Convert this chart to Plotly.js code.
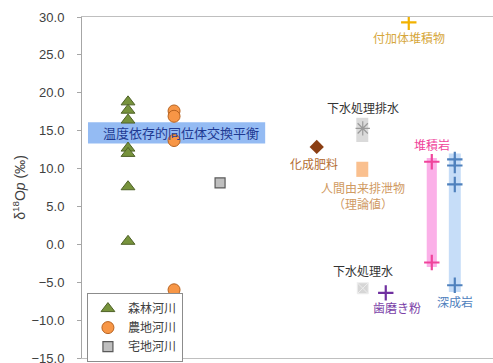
<!DOCTYPE html>
<html>
<head>
<meta charset="utf-8">
<script src="https://cdn.plot.ly/plotly-3.0.1.min.js"></script>
<style>html,body{margin:0;padding:0;background:#fff}#chart{width:493px;height:363px}</style>
</head>
<body>
<div id="chart"></div>
<script>
// River water samples (δ18Op, ‰)
const forestX = [1, 1, 1, 1, 1, 1, 1];
const forestY = [18.8, 17.7, 16.4, 12.7, 12.0, 7.6, 0.4];
const farmX = [2, 2, 2, 2];
const farmY = [17.6, 16.9, 13.7, -6.0];
const urbanX = [3];
const urbanY = [8.1];

// Phosphate sources
const fertX = [5.1], fertY = [12.85];
const sewageEffX = [6.1], sewageEffY = [15.3];
const treatedX = [6.1], treatedY = [-5.8];
const toothX = [6.6], toothY = [-6.4];
const accretX = [7.1], accretY = [29.3];
const sedX = [7.6, 7.6], sedY = [10.9, -2.4];
const plutX = [8.1, 8.1, 8.1, 8.1], plutY = [11.2, 10.4, 7.9, -5.4];

// Value ranges drawn as bands: [x0, x1, low, high]
const equilibriumBand = [0.13, 3.98, 13.3, 16.1];
const sewageBand = [5.96, 6.22, 13.5, 16.7];
const excretaBand = [5.96, 6.22, 8.9, 10.9];
const sedBand = [7.49, 7.71, -3.0, 11.4];
const plutBand = [7.97, 8.23, -6.3, 12.0];

const jp = '"Noto Sans CJK JP", "Noto Sans", sans-serif';
const latin = 'Liberation Sans, Arial, sans-serif';

function band(b, color) {
  return {type: 'rect', xref: 'x', yref: 'y', x0: b[0], x1: b[1], y0: b[2], y1: b[3],
          fillcolor: color, line: {width: 0}, layer: 'below'};
}

function plus(x, y, color) {
  return {x: x, y: y, type: 'scatter', mode: 'markers', showlegend: false, hoverinfo: 'skip',
          marker: {symbol: 'cross-thin', size: 11, color: color, line: {color: color, width: 2.2}}};
}

const traces = [
  {x: forestX, y: forestY, name: '森林河川', type: 'scatter', mode: 'markers',
   marker: {symbol: 'triangle-up', size: 12, color: '#77933C', line: {color: '#4F6228', width: 1}}},
  {x: farmX, y: farmY, name: '農地河川', type: 'scatter', mode: 'markers',
   marker: {symbol: 'circle', size: 12, color: '#F79646', line: {color: '#B7621F', width: 1}}},
  {x: urbanX, y: urbanY, name: '宅地河川', type: 'scatter', mode: 'markers',
   marker: {symbol: 'square', size: 10, color: '#BFBFBF', line: {color: '#595959', width: 1.2}}},
  {x: fertX, y: fertY, type: 'scatter', mode: 'markers', showlegend: false,
   marker: {symbol: 'diamond', size: 11, color: '#8B3E12'}},
  {x: sewageEffX, y: sewageEffY, type: 'scatter', mode: 'markers', showlegend: false,
   marker: {symbol: 'asterisk-open', size: 12, color: '#9A9A9A', line: {color: '#9A9A9A', width: 1.2}}},
  {x: treatedX, y: treatedY, type: 'scatter', mode: 'markers', showlegend: false,
   marker: {symbol: 'square-x', size: 11, color: '#D6D6D6', line: {color: '#EDEDED', width: 1}}},
  plus(toothX, toothY, '#7030A0'),
  plus(accretX, accretY, '#F2B200'),
  plus(sedX, sedY, '#F0449B'),
  plus(plutX, plutY, '#4F81BD')
];

function label(text, x, y, color, size) {
  return {text: text, x: x, y: y, xref: 'x', yref: 'y', showarrow: false,
          font: {family: jp, size: size || 12, color: color}};
}

const layout = {
  width: 493, height: 363,
  margin: {l: 82, r: 0, t: 17, b: 5},
  paper_bgcolor: '#fff', plot_bgcolor: '#fff',
  showlegend: true,
  legend: {x: 0.012, y: -0.012, xanchor: 'left', yanchor: 'bottom',
           bgcolor: '#fff', bordercolor: '#8C8C8C', borderwidth: 1,
           font: {family: jp, size: 12, color: '#404040'}, tracegroupgap: 0},
  xaxis: {range: [0, 8.93], showgrid: false, zeroline: false, showticklabels: false,
          ticks: '', showline: true, mirror: true, linecolor: '#BFBFBF', linewidth: 1},
  yaxis: {range: [-15, 30], dtick: 5, tick0: 0, tickformat: '.1f', showgrid: false, zeroline: false,
          ticks: 'outside', ticklen: 4, tickcolor: '#A6A6A6', showline: true, linecolor: '#A6A6A6',
          ticklabeloverflow: 'allow', ticklabelstandoff: 10,
          tickfont: {family: latin, size: 13, color: '#404040'},
          title: {text: 'δ<sup>18</sup>O<i>p</i> (‰)', standoff: 2,
                  font: {family: latin, size: 14, color: '#404040'}}},
  shapes: [
    band(equilibriumBand, '#94BBF3'),
    band(sewageBand, '#DADADA'),
    band(excretaBand, '#FAC08F'),
    band(sedBand, '#FBB0E8'),
    band(plutBand, '#C6DDF8')
  ],
  annotations: [
    label('温度依存的同位体交換平衡', 2.15, 14.8, '#1F3A93', 13),
    label('付加体堆積物', 7.1, 27.3, '#D6A73C'),
    label('下水処理排水', 6.1, 18.1, '#333333'),
    label('化成肥料', 5.05, 10.7, '#B46E34'),
    label('人間由来排泄物<br>（理論値）', 6.1, 6.4, '#D09A62'),
    label('堆積岩', 7.6, 13.2, '#F0449B'),
    label('深成岩', 8.1, -7.6, '#4F81BD'),
    label('下水処理水', 6.1, -3.4, '#333333'),
    label('歯磨き粉', 6.85, -8.3, '#7B3FA8')
  ]
};

Plotly.newPlot('chart', traces, layout, {displayModeBar: false, staticPlot: true});
</script>
</body>
</html>
